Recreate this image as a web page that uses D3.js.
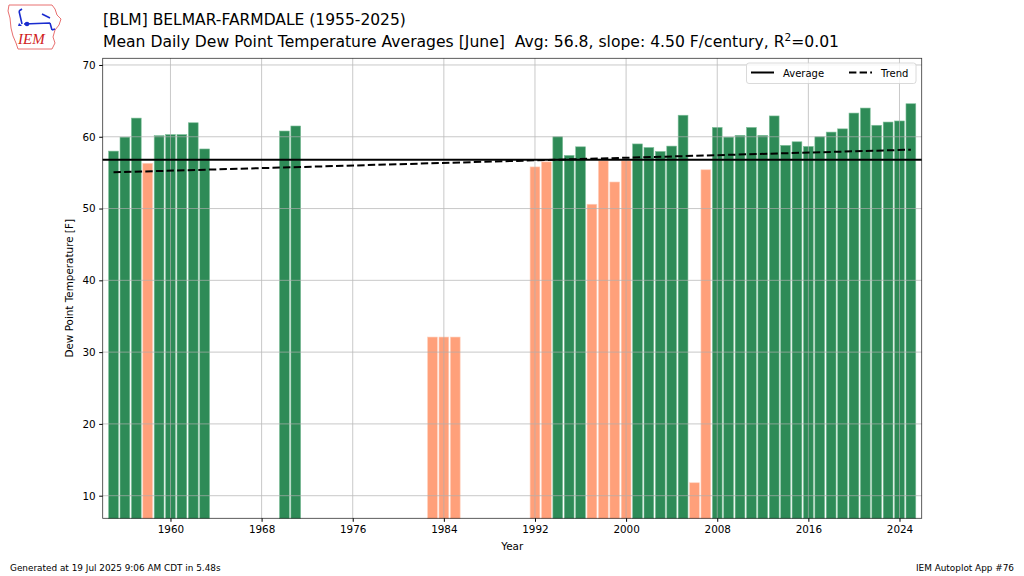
<!DOCTYPE html>
<html><head><meta charset="utf-8">
<script src="https://cdn.jsdelivr.net/npm/d3@7"></script>
<style>
body{margin:0;background:#fff;}
text{font-family:"DejaVu Sans",sans-serif;white-space:pre;}
</style></head>
<body>
<svg id="c" width="1024" height="576"></svg>
<script>
const years = [1955,1956,1957,1958,1959,1960,1961,1962,1963,1970,1971,1983,1984,1985,
1992,1993,1994,1995,1996,1997,1998,1999,2000,2001,2002,2003,2004,2005,2006,2007,
2008,2009,2010,2011,2012,2013,2014,2015,2016,2017,2018,2019,2020,2021,2022,2023,2024,2025];
const dewpoints = [58.0,59.95,62.6,56.3,60.15,60.3,60.3,61.95,58.3,60.8,61.5,32.1,32.1,32.1,
55.8,56.5,60.0,57.4,58.6,50.6,56.65,53.7,56.65,59.0,58.5,57.95,58.7,63.0,11.8,55.4,
61.3,59.95,60.2,61.3,60.2,62.9,58.8,59.3,58.65,60.0,60.65,61.1,63.3,64.0,61.6,62.05,62.2,64.6];
const average = 56.8;
const trendYears = [1955, 2025];
const trendValues = [55.05, 58.2];
const xTicks = [1960,1968,1976,1984,1992,2000,2008,2016,2024];
const yTicks = [10,20,30,40,50,60,70];
const titleLine1 = "[BLM] BELMAR-FARMDALE (1955-2025)";
const titleLine2 = "Mean Daily Dew Point Temperature Averages [June]\u00a0\u00a0Avg: 56.8, slope: 4.50 F/century, R";
const footerLeft = "Generated at 19 Jul 2025 9:06 AM CDT in 5.48s";
const footerRight = "IEM Autoplot App #76";

const svg = d3.select("#c");
const L = 102.7, R = 921.7, T = 58.3, B = 518.3;
const x = d3.scaleLinear().domain([1954.05, 2025.95]).range([L, R]);
const y = d3.scaleLinear().domain([6.85, 70.93]).range([B, T]);
const bw = (x(1) - x(0)) * 0.86;

// bars
svg.append("g").selectAll("rect").data(years.map((yr,i)=>({yr, v:dewpoints[i]}))).join("rect")
  .attr("x", d => x(d.yr) - bw/2)
  .attr("width", bw)
  .attr("y", d => y(d.v))
  .attr("height", d => B - y(d.v))
  .attr("fill", d => d.v >= average ? "#2e8b57" : "#ffa07a")
  .attr("stroke", d => d.v >= average ? "#7fbf9a" : "#ffd0bc")
  .attr("stroke-width", 0.6);

// grid (on top of bars)
const grid = svg.append("g").attr("stroke", "#b0b0b0").attr("stroke-width", 0.8).attr("opacity", 0.85);
xTicks.forEach(t => grid.append("line").attr("x1", x(t)).attr("x2", x(t)).attr("y1", T).attr("y2", B));
yTicks.forEach(t => grid.append("line").attr("x1", L).attr("x2", R).attr("y1", y(t)).attr("y2", y(t)));

// average & trend lines
svg.append("line").attr("x1", L).attr("x2", R).attr("y1", y(average)).attr("y2", y(average))
  .attr("stroke", "#000").attr("stroke-width", 2);
svg.append("path")
  .attr("d", d3.line().x(d=>x(d[0])).y(d=>y(d[1]))(trendYears.map((t,i)=>[t, trendValues[i]])))
  .attr("stroke", "#000").attr("stroke-width", 2).attr("stroke-dasharray", "7.4,3.2").attr("fill", "none");

// axes
const xAxis = d3.axisBottom(x).tickValues(xTicks).tickFormat(d3.format("d")).tickSize(3.5).tickPadding(3.5);
const yAxis = d3.axisLeft(y).tickValues(yTicks).tickSize(3.5).tickPadding(3.5);
const gx = svg.append("g").attr("transform", `translate(0,${B})`).call(xAxis);
const gy = svg.append("g").attr("transform", `translate(${L},0)`).call(yAxis);
[gx, gy].forEach(g => {
  g.select(".domain").remove();
  g.selectAll("text").attr("font-size", 10.4).attr("fill", "#000");
  g.selectAll("line").attr("stroke", "#000");
});

// frame
svg.append("rect").attr("x", L).attr("y", T).attr("width", R - L).attr("height", B - T)
  .attr("fill", "none").attr("stroke", "#000").attr("stroke-width", 0.8).attr("stroke-opacity", 0.8);

// axis labels
svg.append("text").attr("x", (L+R)/2).attr("y", 550).attr("text-anchor", "middle").attr("font-size", 10.4).text("Year");
svg.append("text").attr("transform", `translate(73,${(T+B)/2}) rotate(-90)`).attr("text-anchor", "middle")
  .attr("font-size", 10.4).text("Dew Point Temperature [F]");

// titles
svg.append("text").attr("x", 103).attr("y", 25).attr("font-size", 15.5).text(titleLine1);
const t2 = svg.append("text").attr("x", 103).attr("y", 47).attr("font-size", 15.6);
t2.append("tspan").text(titleLine2);
t2.append("tspan").attr("font-size", 10.5).attr("dy", -6).text("2");
t2.append("tspan").attr("dy", 6).text("=0.01");

// legend
const lg = svg.append("g");
lg.append("rect").attr("x", 746.5).attr("y", 63).attr("width", 169.5).attr("height", 20.5).attr("rx", 2.5)
  .attr("fill", "#fff").attr("fill-opacity", 0.8).attr("stroke", "#d0d0d0").attr("stroke-width", 0.8);
lg.append("line").attr("x1", 751).attr("x2", 774).attr("y1", 72.5).attr("y2", 72.5).attr("stroke", "#000").attr("stroke-width", 2);
lg.append("text").attr("x", 783).attr("y", 76.5).attr("font-size", 10).text("Average");
lg.append("line").attr("x1", 849).attr("x2", 872).attr("y1", 72.5).attr("y2", 72.5).attr("stroke", "#000").attr("stroke-width", 2).attr("stroke-dasharray", "7.4,3.2");
lg.append("text").attr("x", 881).attr("y", 76.5).attr("font-size", 10).text("Trend");

// footers
svg.append("text").attr("x", 10).attr("y", 571).attr("font-size", 8.9).text(footerLeft);
svg.append("text").attr("x", 1014).attr("y", 571).attr("text-anchor", "end").attr("font-size", 8.9).text(footerRight);

// logo (simplified IEM Iowa outline)
const logo = svg.append("g");
logo.append("path").attr("d", "M9,5 L52,5 L55,9 L57,15 L61,19 L59,25 L55,30 L53,37 L55,43 L52,49 L18,49 L16,43 L13,36 L11,28 L10,18 L8,11 Z")
  .attr("fill", "none").attr("stroke", "#e87070").attr("stroke-width", 1);
logo.append("path").attr("d", "M24,24 L50,23 M22,24 L19,11 M19,11 L22,9 M42,14 L50,18 M50,23 L52,30 M52,30 L55,29")
  .attr("fill", "none").attr("stroke", "#1a2ccf").attr("stroke-width", 1.6);
logo.append("circle").attr("cx", 27).attr("cy", 24).attr("r", 2.3).attr("fill", "#1a2ccf");
logo.append("path").attr("d", "M19,23 L22,26 L18,26 Z").attr("fill", "#1a2ccf");
logo.append("text").attr("x", 18).attr("y", 44).style("font-family", "'Liberation Serif', serif").style("font-style", "italic")
  .attr("font-size", 15).attr("fill", "#d02020").text("IEM");
</script>
</body></html>
